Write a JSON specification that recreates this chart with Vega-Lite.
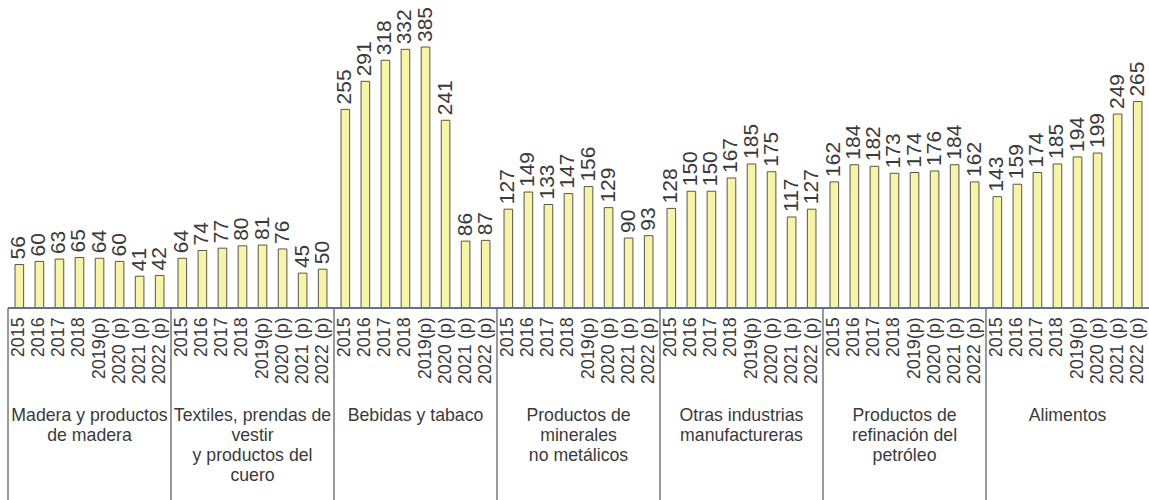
{
  "$schema": "https://vega.github.io/schema/vega-lite/v6.json",
  "autosize": "none",
  "padding": {"left": 8, "top": 47, "right": 0, "bottom": 0},
  "width": 1141,
  "height": 453,
  "background": "white",
  "config": {"view": {"stroke": null}, "text": {"font": "Liberation Sans", "color": "#3a3a3a"}},
  "datasets": {
    "bars": [
      {"grupo": "Madera", "anio": "2015", "valor": 56},
      {"grupo": "Madera", "anio": "2016", "valor": 60},
      {"grupo": "Madera", "anio": "2017", "valor": 63},
      {"grupo": "Madera", "anio": "2018", "valor": 65},
      {"grupo": "Madera", "anio": "2019(p)", "valor": 64},
      {"grupo": "Madera", "anio": "2020 (p)", "valor": 60},
      {"grupo": "Madera", "anio": "2021 (p)", "valor": 41},
      {"grupo": "Madera", "anio": "2022 (p)", "valor": 42},
      {"grupo": "Textiles", "anio": "2015", "valor": 64},
      {"grupo": "Textiles", "anio": "2016", "valor": 74},
      {"grupo": "Textiles", "anio": "2017", "valor": 77},
      {"grupo": "Textiles", "anio": "2018", "valor": 80},
      {"grupo": "Textiles", "anio": "2019(p)", "valor": 81},
      {"grupo": "Textiles", "anio": "2020 (p)", "valor": 76},
      {"grupo": "Textiles", "anio": "2021 (p)", "valor": 45},
      {"grupo": "Textiles", "anio": "2022 (p)", "valor": 50},
      {"grupo": "Bebidas", "anio": "2015", "valor": 255},
      {"grupo": "Bebidas", "anio": "2016", "valor": 291},
      {"grupo": "Bebidas", "anio": "2017", "valor": 318},
      {"grupo": "Bebidas", "anio": "2018", "valor": 332},
      {"grupo": "Bebidas", "anio": "2019(p)", "valor": 385},
      {"grupo": "Bebidas", "anio": "2020 (p)", "valor": 241},
      {"grupo": "Bebidas", "anio": "2021 (p)", "valor": 86},
      {"grupo": "Bebidas", "anio": "2022 (p)", "valor": 87},
      {"grupo": "Minerales", "anio": "2015", "valor": 127},
      {"grupo": "Minerales", "anio": "2016", "valor": 149},
      {"grupo": "Minerales", "anio": "2017", "valor": 133},
      {"grupo": "Minerales", "anio": "2018", "valor": 147},
      {"grupo": "Minerales", "anio": "2019(p)", "valor": 156},
      {"grupo": "Minerales", "anio": "2020 (p)", "valor": 129},
      {"grupo": "Minerales", "anio": "2021 (p)", "valor": 90},
      {"grupo": "Minerales", "anio": "2022 (p)", "valor": 93},
      {"grupo": "Otras", "anio": "2015", "valor": 128},
      {"grupo": "Otras", "anio": "2016", "valor": 150},
      {"grupo": "Otras", "anio": "2017", "valor": 150},
      {"grupo": "Otras", "anio": "2018", "valor": 167},
      {"grupo": "Otras", "anio": "2019(p)", "valor": 185},
      {"grupo": "Otras", "anio": "2020 (p)", "valor": 175},
      {"grupo": "Otras", "anio": "2021 (p)", "valor": 117},
      {"grupo": "Otras", "anio": "2022 (p)", "valor": 127},
      {"grupo": "Refinacion", "anio": "2015", "valor": 162},
      {"grupo": "Refinacion", "anio": "2016", "valor": 184},
      {"grupo": "Refinacion", "anio": "2017", "valor": 182},
      {"grupo": "Refinacion", "anio": "2018", "valor": 173},
      {"grupo": "Refinacion", "anio": "2019(p)", "valor": 174},
      {"grupo": "Refinacion", "anio": "2020 (p)", "valor": 176},
      {"grupo": "Refinacion", "anio": "2021 (p)", "valor": 184},
      {"grupo": "Refinacion", "anio": "2022 (p)", "valor": 162},
      {"grupo": "Alimentos", "anio": "2015", "valor": 143},
      {"grupo": "Alimentos", "anio": "2016", "valor": 159},
      {"grupo": "Alimentos", "anio": "2017", "valor": 174},
      {"grupo": "Alimentos", "anio": "2018", "valor": 185},
      {"grupo": "Alimentos", "anio": "2019(p)", "valor": 194},
      {"grupo": "Alimentos", "anio": "2020 (p)", "valor": 199},
      {"grupo": "Alimentos", "anio": "2021 (p)", "valor": 249},
      {"grupo": "Alimentos", "anio": "2022 (p)", "valor": 265}
    ],
    "grupos": [
      {"grupo": "Madera", "etiqueta": "Madera y productos\nde madera"},
      {"grupo": "Textiles", "etiqueta": "Textiles, prendas de\nvestir\ny productos del\ncuero"},
      {"grupo": "Bebidas", "etiqueta": "Bebidas y tabaco"},
      {"grupo": "Minerales", "etiqueta": "Productos de\nminerales\nno metálicos"},
      {"grupo": "Otras", "etiqueta": "Otras industrias\nmanufactureras"},
      {"grupo": "Refinacion", "etiqueta": "Productos de\nrefinación del\npetróleo"},
      {"grupo": "Alimentos", "etiqueta": "Alimentos"}
    ]
  },
  "layer": [
    {
      "data": {"name": "bars"},
      "mark": {"type": "bar", "fill": "#f8f4a6", "stroke": "#555555", "strokeWidth": 1},
      "encoding": {
        "x": {"field": "grupo", "type": "nominal", "sort": null, "axis": null,
              "scale": {"domain": ["Madera", "Textiles", "Bebidas", "Minerales", "Otras", "Refinacion", "Alimentos"], "paddingInner": 0, "paddingOuter": 0}},
        "xOffset": {"field": "anio", "type": "nominal", "sort": null,
                    "scale": {"paddingInner": 0.57, "paddingOuter": 0.35}},
        "y": {"field": "valor", "type": "quantitative", "axis": null,
              "scale": {"domain": [-246, 335], "clamp": true, "nice": false, "zero": false}},
        "y2": {"datum": 0}
      }
    },
    {
      "data": {"name": "bars"},
      "mark": {"type": "text", "angle": 270, "align": "left", "baseline": "middle", "dx": 5, "fontSize": 21},
      "encoding": {
        "x": {"field": "grupo", "type": "nominal", "sort": null},
        "xOffset": {"field": "anio", "type": "nominal", "sort": null},
        "y": {"field": "valor", "type": "quantitative"},
        "text": {"field": "valor", "type": "quantitative"}
      }
    },
    {
      "data": {"name": "bars"},
      "mark": {"type": "text", "angle": 270, "align": "right", "baseline": "middle", "dx": -9, "fontSize": 18},
      "encoding": {
        "x": {"field": "grupo", "type": "nominal", "sort": null},
        "xOffset": {"field": "anio", "type": "nominal", "sort": null},
        "y": {"datum": 0},
        "text": {"field": "anio", "type": "nominal"}
      }
    },
    {
      "data": {"name": "grupos"},
      "mark": {"type": "rule", "color": "#555555", "strokeWidth": 1.2},
      "encoding": {
        "x": {"field": "grupo", "type": "nominal", "sort": null, "bandPosition": 0},
        "y": {"datum": 0},
        "y2": {"datum": -246}
      }
    },
    {
      "data": {"name": "grupos"},
      "mark": {"type": "rule", "color": "#5b7590", "strokeWidth": 1.5},
      "encoding": {"y": {"datum": 0}}
    },
    {
      "data": {"name": "grupos"},
      "mark": {"type": "text", "align": "center", "baseline": "top", "dy": 99, "fontSize": 17.7, "lineBreak": "\n", "lineHeight": 20},
      "encoding": {
        "x": {"field": "grupo", "type": "nominal", "sort": null},
        "y": {"datum": 0},
        "text": {"field": "etiqueta", "type": "nominal"}
      }
    }
  ]
}
